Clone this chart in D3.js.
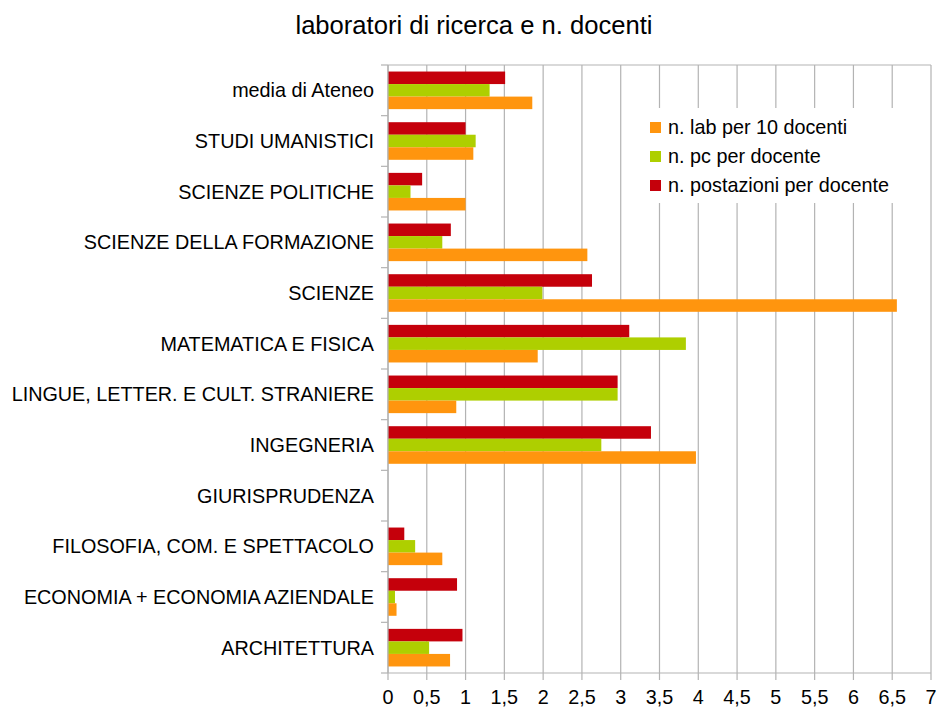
<!DOCTYPE html>
<html>
<head>
<meta charset="utf-8">
<script src="https://cdn.jsdelivr.net/npm/d3@7"></script>
<style>
  body { margin: 0; background: #fff; }
  text { font-family: "Liberation Sans", Arial, sans-serif; }
</style>
</head>
<body>
<script>
// categories, top to bottom as drawn
var categories = [
  "media di Ateneo",
  "STUDI UMANISTICI",
  "SCIENZE POLITICHE",
  "SCIENZE DELLA FORMAZIONE",
  "SCIENZE",
  "MATEMATICA E FISICA",
  "LINGUE, LETTER. E CULT. STRANIERE",
  "INGEGNERIA",
  "GIURISPRUDENZA",
  "FILOSOFIA, COM. E SPETTACOLO",
  "ECONOMIA + ECONOMIA AZIENDALE",
  "ARCHITETTURA"
];

// series values (same order as categories)
var labPer10 = [1.86, 1.10, 1.00, 2.57, 6.56, 1.93, 0.88, 3.97, 0, 0.70, 0.11, 0.80];
var pcPerDoc = [1.31, 1.13, 0.29, 0.70, 1.99, 3.84, 2.96, 2.75, 0, 0.35, 0.09, 0.53];
var postPerDoc = [1.51, 1.00, 0.44, 0.81, 2.63, 3.11, 2.96, 3.39, 0, 0.21, 0.89, 0.96];

var seriesNames = ["n. lab per 10 docenti", "n. pc per docente", "n. postazioni per docente"];
var seriesColors = ["#ff950e", "#aecf00", "#c5000b"];
var tickValues = [0, 0.5, 1, 1.5, 2, 2.5, 3, 3.5, 4, 4.5, 5, 5.5, 6, 6.5, 7];

var W = 937, H = 707;
// plot area (note: "top" is reserved on window, so use other names)
var pLeft = 388, pRight = 931, pTop = 65, pBottom = 673;
var labelSize = 19.8;

var svg = d3.select("body").append("svg")
  .attr("width", W).attr("height", H);

var x = d3.scaleLinear().domain([0, 7]).range([pLeft, pRight]);
var y = d3.scaleBand().domain(categories).range([pTop, pBottom])
  .paddingInner(0.258).paddingOuter(0.129);

// red on top, then green, then orange
var drawOrder = [2, 1, 0];
var sub = d3.scaleBand().domain(drawOrder).range([0, y.bandwidth()]);

var series = [labPer10, pcPerDoc, postPerDoc];

// title
svg.append("text")
  .attr("x", 474).attr("y", 34)
  .attr("text-anchor", "middle")
  .attr("font-size", 25.6)
  .attr("fill", "#000")
  .text("laboratori di ricerca e n. docenti");

// grid lines
svg.append("g").selectAll("line")
  .data(tickValues)
  .enter().append("line")
  .attr("x1", function(d) { return x(d); })
  .attr("x2", function(d) { return x(d); })
  .attr("y1", pTop).attr("y2", pBottom + 7)
  .attr("stroke", "#b3b3b3").attr("stroke-width", 1.2);

// top border
svg.append("line")
  .attr("x1", pLeft).attr("x2", pRight)
  .attr("y1", pTop).attr("y2", pTop)
  .attr("stroke", "#b3b3b3").attr("stroke-width", 1.2);

// bars
drawOrder.forEach(function(s) {
  svg.append("g").selectAll("rect")
    .data(categories)
    .enter().append("rect")
    .attr("x", x(0))
    .attr("y", function(d) { return y(d) + sub(s); })
    .attr("width", function(d, i) { return x(series[s][i]) - x(0); })
    .attr("height", sub.bandwidth())
    .attr("fill", seriesColors[s]);
});

// y axis with ticks at band boundaries
var step = y.step();
var boundaries = d3.range(categories.length + 1).map(function(i) { return pTop + i * step; });
svg.append("line")
  .attr("x1", pLeft).attr("x2", pLeft)
  .attr("y1", pTop).attr("y2", pBottom)
  .attr("stroke", "#b3b3b3").attr("stroke-width", 1.2);
svg.append("g").selectAll("line")
  .data(boundaries)
  .enter().append("line")
  .attr("x1", pLeft - 7).attr("x2", pLeft)
  .attr("y1", function(d) { return d; }).attr("y2", function(d) { return d; })
  .attr("stroke", "#b3b3b3").attr("stroke-width", 1.2);

// x axis line
svg.append("line")
  .attr("x1", pLeft).attr("x2", pRight)
  .attr("y1", pBottom).attr("y2", pBottom)
  .attr("stroke", "#b3b3b3").attr("stroke-width", 1.2);

// category labels
svg.append("g").selectAll("text")
  .data(categories)
  .enter().append("text")
  .attr("x", 374)
  .attr("y", function(d) { return y(d) + y.bandwidth() / 2 + 7; })
  .attr("text-anchor", "end")
  .attr("font-size", labelSize)
  .attr("fill", "#000")
  .text(function(d) { return d; });

// x tick labels
svg.append("g").selectAll("text")
  .data(tickValues)
  .enter().append("text")
  .attr("x", function(d) { return x(d); })
  .attr("y", 704)
  .attr("text-anchor", "middle")
  .attr("font-size", labelSize)
  .attr("fill", "#000")
  .text(function(d) { return String(d).replace(".", ","); });

// legend
var legend = svg.append("g");
legend.append("rect")
  .attr("x", 640).attr("y", 108)
  .attr("width", 275).attr("height", 95)
  .attr("fill", "#fff");
var legendItems = legend.selectAll("g")
  .data([0, 1, 2])
  .enter().append("g")
  .attr("transform", function(d, i) { return "translate(650," + (122 + i * 29) + ")"; });
legendItems.append("rect")
  .attr("width", 11).attr("height", 11)
  .attr("fill", function(d) { return seriesColors[d]; });
legendItems.append("text")
  .attr("x", 18).attr("y", 12)
  .attr("font-size", labelSize)
  .attr("fill", "#000")
  .text(function(d) { return seriesNames[d]; });
</script>
</body>
</html>
